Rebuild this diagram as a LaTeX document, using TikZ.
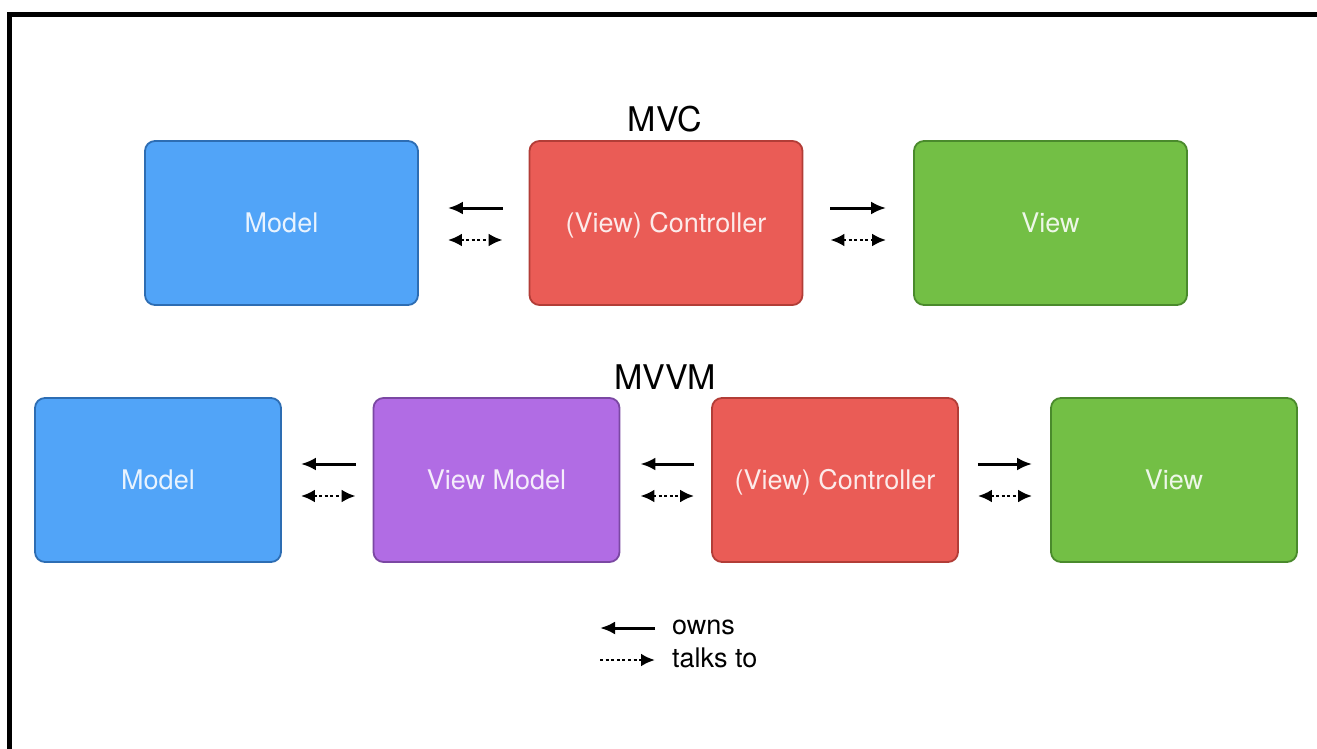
\documentclass[tikz,border=0pt]{standalone}
\usepackage{fontspec}
\setmainfont{TeX Gyre Heros}
\usetikzlibrary{arrows.meta}

\definecolor{modelfill}{HTML}{51A4F8}
\definecolor{modeledge}{HTML}{2D6DB3}
\definecolor{ctrlfill}{HTML}{EA5C56}
\definecolor{ctrledge}{HTML}{B23D37}
\definecolor{viewfill}{HTML}{73BF45}
\definecolor{viewedge}{HTML}{4A8A2C}
\definecolor{vmfill}{HTML}{B16CE4}
\definecolor{vmedge}{HTML}{7B48A3}

\tikzset{
  box/.style={rectangle, rounded corners=10pt, line width=1.8pt,
    minimum height=164pt, inner sep=0pt, text=white, text opacity=0.88,
    font=\fontsize{27}{32}\selectfont, text height=20pt, text depth=2pt},
  wide/.style={minimum width=273pt},
  narrow/.style={minimum width=246pt},
  modelbox/.style={box, fill=modelfill, draw=modeledge},
  ctrlbox/.style={box, fill=ctrlfill, draw=ctrledge},
  viewbox/.style={box, fill=viewfill, draw=viewedge},
  vmbox/.style={box, fill=vmfill, draw=vmedge},
  heading/.style={font=\fontsize{34}{40}\selectfont, inner sep=0pt},
  owns/.style={line width=3pt, -{Latex[length=15pt,width=13pt]}},
  talks/.style={line width=2.8pt, dash pattern=on 3pt off 2.6pt,
    {Latex[length=14pt,width=13pt]}-{Latex[length=14pt,width=13pt]}},
  talksone/.style={line width=2.8pt, dash pattern=on 3pt off 2.6pt,
    -{Latex[length=14pt,width=13pt]}},
  legendtext/.style={font=\fontsize{27}{32}\selectfont, anchor=west, inner sep=0pt},
}

\begin{document}
\begin{tikzpicture}[x=1pt, y=-1pt]
  \useasboundingbox (0,0) rectangle (1317,749);
  \fill[white] (0,0) rectangle (1317,749);

  % frame (top and left edges)
  \draw[line width=5pt, line cap=rect] (9.5,749) -- (9.5,14.5) -- (1317,14.5);

  % ---- MVC ----
  \node[heading] (mvc) at (665,119) {MVC};
  \node[modelbox, wide] (m1) at (281.5,223) {Model};
  \node[ctrlbox, wide]  (c1) at (666,223) {(View) Controller};
  \node[viewbox, wide]  (v1) at (1050.5,223) {View};

  \draw[owns, shorten <=26pt, shorten >=29pt]
    ([yshift=15pt]c1.west) -- ([yshift=15pt]m1.east);
  \draw[talks, shorten <=29pt, shorten >=26pt]
    ([yshift=-17pt]m1.east) -- ([yshift=-17pt]c1.west);
  \draw[owns, shorten <=27pt, shorten >=27pt]
    ([yshift=15pt]c1.east) -- ([yshift=15pt]v1.west);
  \draw[talks, shorten <=27pt, shorten >=27pt]
    ([yshift=-17pt]c1.east) -- ([yshift=-17pt]v1.west);

  % ---- MVVM ----
  \node[heading] (mvvm) at (665,377) {MVVM};
  \node[modelbox, narrow] (m2)  at (158,480) {Model};
  \node[vmbox, narrow]    (vm2) at (496.5,480) {View Model};
  \node[ctrlbox, narrow]  (c2)  at (835,480) {(View) Controller};
  \node[viewbox, narrow]  (v2)  at (1174,480) {View};

  \draw[owns, shorten <=17pt, shorten >=19pt]
    ([yshift=16pt]vm2.west) -- ([yshift=16pt]m2.east);
  \draw[talks, shorten <=19pt, shorten >=17pt]
    ([yshift=-16pt]m2.east) -- ([yshift=-16pt]vm2.west);
  \draw[owns, shorten <=17pt, shorten >=20pt]
    ([yshift=16pt]c2.west) -- ([yshift=16pt]vm2.east);
  \draw[talks, shorten <=20pt, shorten >=17pt]
    ([yshift=-16pt]vm2.east) -- ([yshift=-16pt]c2.west);
  \draw[owns, shorten <=19pt, shorten >=18pt]
    ([yshift=16pt]c2.east) -- ([yshift=16pt]v2.west);
  \draw[talks, shorten <=19pt, shorten >=18pt]
    ([yshift=-16pt]c2.east) -- ([yshift=-16pt]v2.west);

  % ---- legend ----
  \node[legendtext] (lowns)  at (672,627) {owns};
  \node[legendtext] (ltalks) at (672,658) {talks to};
  \coordinate (lo) at (600,628);
  \coordinate (lt) at (600,660);
  \draw[owns]     ([xshift=-17pt]lowns.west |- lo) -- (lo);
  \draw[talksone] (lt) -- ([xshift=-17pt]ltalks.west |- lt);
\end{tikzpicture}
\end{document}
